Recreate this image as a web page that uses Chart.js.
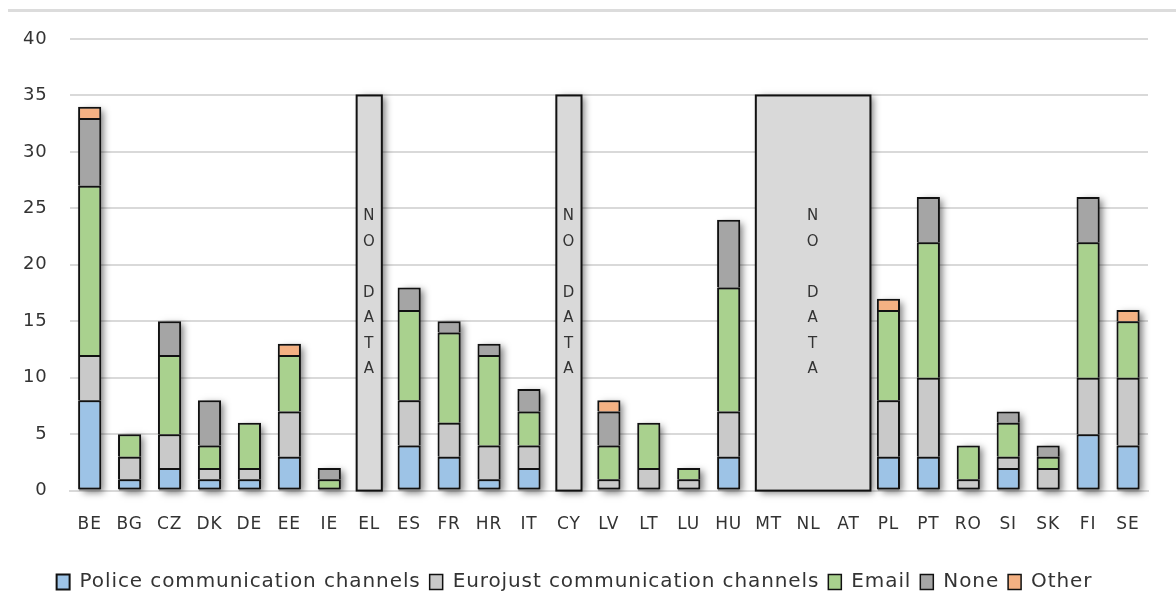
<!DOCTYPE html>
<html lang="en">
<head>
    <meta charset="UTF-8">
    <title>Communication channels</title>
    <script src="https://cdn.jsdelivr.net/npm/chart.js"></script>
    <style>
        body { margin: 0; background: #fff; }
        .topline { position: absolute; left: 8px; right: 0; top: 9px; border-top: 3px solid #dcdcdc; }
        .chart-box { position: relative; width: 1176px; height: 615px; }
    </style>
</head>
<body>
    <div class="chart-box">
        <div class="topline"></div>
        <canvas id="grafico"></canvas>
    </div>

    <script>
        const categories = ['BE','BG','CZ','DK','DE','EE','IE','EL','ES','FR','HR','IT','CY','LV','LT','LU','HU','MT','NL','AT','PL','PT','RO','SI','SK','FI','SE'];
        const police   = [8,1,2,1,1,3,0,0,4,3,1,2,0,0,0,0,3,0,0,0,3,3,0,2,0,5,4];
        const eurojust = [4,2,3,1,1,4,0,0,4,3,3,2,0,1,2,1,4,0,0,0,5,7,1,1,2,5,6];
        const email    = [15,2,7,2,4,5,1,0,8,8,8,3,0,3,4,1,11,0,0,0,8,12,3,3,1,12,5];
        const none     = [6,0,3,4,0,0,1,0,2,1,1,2,0,3,0,0,6,0,0,0,0,4,0,1,1,4,0];
        const other    = [1,0,0,0,0,1,0,0,0,0,0,0,0,1,0,0,0,0,0,0,1,0,0,0,0,0,1];
        const yTicks = [0,5,10,15,20,25,30,35,40];

        // countries without answer: first and last category of each box
        const noDataGroups = [['EL','EL'], ['CY','CY'], ['MT','AT']];
        const noDataValue = 35;
        const noDataText = ['N','O','','D','A','T','A'];

        const series = [
            { label: 'Police communication channels', data: police, color: '#9dc3e6' },
            { label: 'Eurojust communication channels', data: eurojust, color: '#c9c9c9' },
            { label: 'Email', data: email, color: '#a9d18e' },
            { label: 'None', data: none, color: '#a5a5a5' },
            { label: 'Other', data: other, color: '#f4b183' }
        ];

        function larguraBarra(chart) {
            const meta = chart.getDatasetMeta(0);
            const el = meta.data.find(d => d && isFinite(d.width) && d.width > 0);
            return el ? el.width : 23;
        }

        // primeiro segmento não vazio de cada coluna (leva a borda de baixo)
        function ehBase(dsIndex, i) {
            for (let k = 0; k < dsIndex; k++) {
                if (series[k].data[i]) return false;
            }
            return true;
        }

        // espaçamento das letras, como no original
        const espacoPlugin = {
            id: 'espaco',
            beforeUpdate(chart) { chart.ctx.letterSpacing = '0.9px'; }
        };

        // sombra atrás de cada coluna
        const sombraPlugin = {
            id: 'sombra',
            beforeDatasetsDraw(chart) {
                const ctx = chart.ctx;
                const x = chart.scales.x, y = chart.scales.y;
                const w = larguraBarra(chart);
                ctx.save();
                ctx.shadowColor = 'rgba(0,0,0,0.5)';
                ctx.shadowBlur = 7;
                ctx.shadowOffsetX = 4;
                ctx.shadowOffsetY = 2;
                ctx.fillStyle = '#888';
                categories.forEach((c, i) => {
                    const total = series.reduce((s, ser) => s + ser.data[i], 0);
                    if (!total) return;
                    const cx = x.getPixelForValue(i);
                    const top = y.getPixelForValue(total);
                    ctx.fillRect(cx - w / 2 + 1, top + 1, w - 2, y.getPixelForValue(0) - top - 1);
                });
                ctx.restore();
            }
        };

        const semDadosPlugin = {
            id: 'semDados',
            beforeDatasetsDraw(chart) {
                const ctx = chart.ctx;
                const x = chart.scales.x, y = chart.scales.y;
                const w = larguraBarra(chart);
                const top = y.getPixelForValue(noDataValue);
                const base = y.getPixelForValue(0);
                noDataGroups.forEach(g => {
                    const i0 = categories.indexOf(g[0]);
                    const i1 = categories.indexOf(g[1]);
                    let left, right;
                    if (i0 === i1) {
                        left = x.getPixelForValue(i0) - w / 2 - 1;
                        right = x.getPixelForValue(i1) + w / 2 + 1;
                    } else {
                        left = x.getPixelForValue(i0 - 0.32);
                        right = x.getPixelForValue(i1 + 0.55);
                    }
                    ctx.save();
                    ctx.shadowColor = 'rgba(0,0,0,0.5)';
                    ctx.shadowBlur = 7;
                    ctx.shadowOffsetX = 4;
                    ctx.shadowOffsetY = 2;
                    ctx.fillStyle = '#d9d9d9';
                    ctx.fillRect(left, top, right - left, base - top);
                    ctx.restore();
                    ctx.save();
                    ctx.strokeStyle = '#111';
                    ctx.lineWidth = 2;
                    ctx.strokeRect(left, top, right - left, base - top);
                    ctx.fillStyle = '#333';
                    ctx.font = '15px "DejaVu Sans"';
                    ctx.textAlign = 'center';
                    ctx.textBaseline = 'middle';
                    const cx = (left + right) / 2;
                    noDataText.forEach((t, k) => {
                        ctx.fillText(t, cx, y.getPixelForValue(24.3) + k * 25.5);
                    });
                    ctx.restore();
                });
            }
        };

        const ctx = document.getElementById('grafico').getContext('2d');
        new Chart(ctx, {
            type: 'bar',
            data: {
                labels: categories,
                datasets: series.map((s, dsIndex) => ({
                    label: s.label,
                    data: s.data.map(v => v === 0 ? null : v),
                    backgroundColor: s.color,
                    borderColor: '#111',
                    borderWidth: c => ({ top: 2, left: 2, right: 2, bottom: ehBase(dsIndex, c.dataIndex) ? 2 : 0 }),
                    borderSkipped: false,
                    categoryPercentage: 1,
                    barPercentage: 0.58
                }))
            },
            options: {
                responsive: true,
                maintainAspectRatio: false,
                animation: false,
                layout: { padding: { left: 1, right: 28, top: 39, bottom: 13 } },
                scales: {
                    x: {
                        stacked: true,
                        afterFit: axis => { axis.height += 12; },
                        grid: { display: false },
                        border: { color: '#d9d9d9', width: 2 },
                        ticks: { color: '#333', font: { family: 'DejaVu Sans', size: 17 }, padding: 16, maxRotation: 0, autoSkip: false }
                    },
                    y: {
                        stacked: true,
                        min: 0,
                        max: 40,
                        afterBuildTicks: axis => { axis.ticks = yTicks.map(v => ({ value: v })); },
                        grid: { color: '#d9d9d9', lineWidth: 2, drawTicks: false },
                        border: { display: false },
                        ticks: { color: '#333', font: { family: 'DejaVu Sans', size: 18 }, padding: 22 }
                    }
                },
                plugins: {
                    tooltip: { enabled: false },
                    legend: {
                        position: 'bottom',
                        labels: {
                            color: '#333',
                            font: { family: 'DejaVu Sans', size: 20 },
                            boxWidth: 13,
                            boxHeight: 15,
                            padding: 9
                        }
                    }
                }
            },
            plugins: [espacoPlugin, sombraPlugin, semDadosPlugin]
        });
    </script>
</body>
</html>
